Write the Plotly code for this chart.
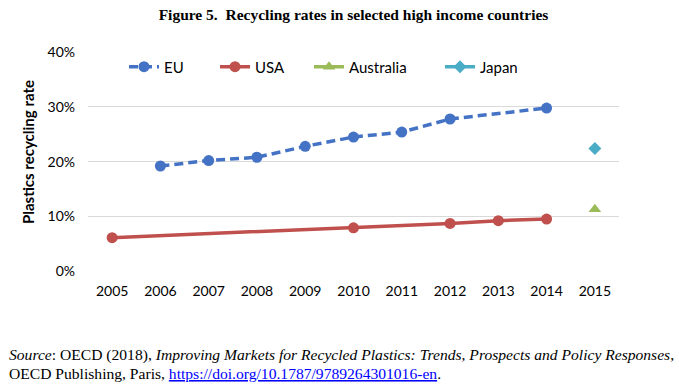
import plotly.graph_objects as go

years = [2005, 2006, 2007, 2008, 2009, 2010, 2011, 2012, 2013, 2014, 2015]
eu = [None, 0.192, 0.202, 0.208, 0.228, 0.245, 0.254, 0.278, None, 0.298, None]
usa = [0.061, None, None, None, None, 0.079, None, 0.087, 0.092, 0.095, None]
australia = [None, None, None, None, None, None, None, None, None, None, 0.113]
japan = [None, None, None, None, None, None, None, None, None, None, 0.224]
y_ticks = [0, 0.1, 0.2, 0.3, 0.4]
y_tick_labels = ["0%", "10%", "20%", "30%", "40%"]

FONT = "Lato"
fig = go.Figure()
fig.add_trace(go.Scatter(x=years, y=eu, name="EU", mode="lines+markers", connectgaps=True,
                         line=dict(color="#4472C4", width=3.5, dash="9px,5px"),
                         marker=dict(symbol="circle", size=11, color="#4472C4"), legend="legend"))
fig.add_trace(go.Scatter(x=years, y=usa, name="USA", mode="lines+markers", connectgaps=True,
                         line=dict(color="#C0504D", width=3.5),
                         marker=dict(symbol="circle", size=11, color="#C0504D"), legend="legend2"))
fig.add_trace(go.Scatter(x=years, y=australia, name="Australia", mode="lines+markers",
                         line=dict(color="#9BBB59", width=3.5),
                         marker=dict(symbol="triangle-up", size=11, color="#9BBB59"), legend="legend3"))
fig.add_trace(go.Scatter(x=years, y=japan, name="Japan", mode="lines+markers",
                         line=dict(color="#4BACC6", width=3.5),
                         marker=dict(symbol="diamond", size=10, color="#4BACC6"), legend="legend4"))

W = 531.0
def px(xpix):
    return (xpix - 88) / W

leg_common = dict(orientation="h", yanchor="middle", y=0.932, xanchor="left",
                  bgcolor="rgba(0,0,0,0)", font=dict(family=FONT, size=15, color="#000"))
fig.update_layout(
    legend=dict(x=px(124), **leg_common),
    legend2=dict(x=px(215), **leg_common),
    legend3=dict(x=px(309), **leg_common),
    legend4=dict(x=px(440), **leg_common),
)

fig.add_shape(type="rect", xref="paper", yref="paper", x0=px(98), x1=px(546), y0=0.98, y1=1.02,
              fillcolor="white", line=dict(width=0), layer="between")

fig.update_layout(
    width=679, height=385,
    margin=dict(l=88, r=60, t=52, b=114),
    plot_bgcolor="white", paper_bgcolor="white",
    showlegend=True,
    font=dict(family=FONT, size=14, color="#000"),
    title=dict(text="<b>Figure 5.  Recycling rates in selected high income countries</b>",
               x=0.5, xref="paper", xanchor="center", y=0.962, yanchor="middle",
               font=dict(family="Liberation Serif", size=15.5, color="#000")),
    xaxis=dict(range=[2004.5, 2015.5], tickmode="array", tickvals=years,
               ticktext=[str(y) for y in years], showgrid=False, zeroline=False, showline=False,
               ticks="", ticklabelstandoff=10, tickfont=dict(family=FONT, size=14, color="#000")),
    yaxis=dict(range=[0, 0.4005], tickmode="array", tickvals=y_ticks, ticktext=y_tick_labels,
               showgrid=True, gridcolor="#D9D9D9", gridwidth=1, zeroline=False, showline=False,
               ticks="", ticklabelstandoff=12, tickfont=dict(family=FONT, size=14, color="#000")),
)

fig.add_annotation(text="<b>Plastics recycling rate</b>", xref="paper", yref="paper",
                   x=px(28), y=(271 - 152) / 219.0, xanchor="center", yanchor="middle", textangle=-90,
                   showarrow=False, font=dict(family=FONT, size=15, color="#000"))

src1 = ("<i>Source</i>: OECD (2018), <i>Improving Markets for Recycled Plastics: Trends, "
        "Prospects and Policy Responses</i>,")
src2 = ("OECD Publishing, Paris, <a href='https://doi.org/10.1787/9789264301016-en'>"
        "<span style='color:#0000FF'><u>https://doi.org/10.1787/9789264301016-en</u></span></a>.")
for txt, ypix in [(src1, 355), (src2, 373)]:
    fig.add_annotation(text=txt, xref="paper", yref="paper", x=px(7), y=(271 - ypix) / 219.0,
                       xanchor="left", yanchor="middle", showarrow=False, align="left",
                       font=dict(family="Liberation Serif", size=15.6, color="#000"))

fig.write_html("out.html", config={"displayModeBar": False},
               post_script="document.body.style.margin='0';")
